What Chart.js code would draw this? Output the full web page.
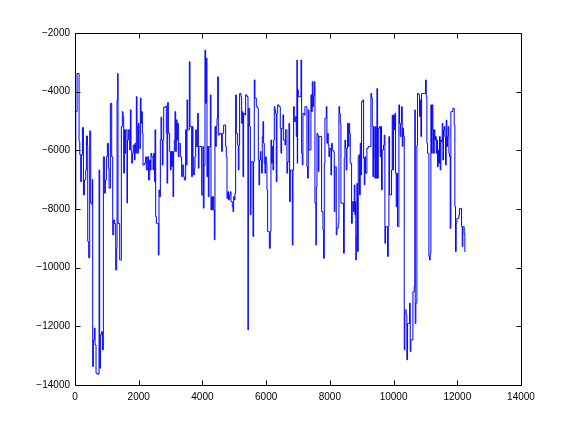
<!DOCTYPE html>
<html lang="en">
  <head>
    <meta charset="UTF-8" />
    <title>Step trace</title>
    <script src="https://cdn.jsdelivr.net/npm/chart.js"></script>
    <style>
      body {
        margin: 0;
        background: #fff;
      }
      canvas {
        display: block;
      }
    </style>
  </head>
  <body>
    <canvas id="traceChart" width="576" height="432"></canvas>

    <script>
      // sample positions (x) and levels (y)
      const xs = [
        0, 25, 65, 128, 150, 180, 200, 232, 264, 295, 337, 358, 390, 400, 430, 462, 493, 535, 545, 556,
        577, 608, 630, 660, 702, 755, 776, 797, 838, 860, 890, 922, 953, 985, 1017, 1048, 1070, 1110, 1152, 1184,
        1215, 1236, 1278, 1309, 1320, 1340, 1351, 1403, 1455, 1487, 1508, 1529, 1550, 1570, 1591, 1633, 1645, 1675, 1717, 1738,
        1759, 1780, 1801, 1830, 1863, 1884, 1905, 1926, 1947, 1968, 1989, 2010, 2052, 2073, 2093, 2114, 2135, 2177, 2219, 2240,
        2282, 2310, 2345, 2366, 2386, 2407, 2449, 2470, 2491, 2500, 2512, 2533, 2554, 2595, 2616, 2637, 2658, 2679, 2700, 2721,
        2742, 2763, 2784, 2846, 2867, 2888, 2909, 2930, 2951, 2972, 2993, 3014, 3035, 3056, 3077, 3097, 3118, 3139, 3160, 3181,
        3202, 3223, 3244, 3265, 3286, 3307, 3348, 3369, 3411, 3432, 3474, 3495, 3516, 3537, 3579, 3589, 3610, 3641, 3662, 3683,
        3704, 3725, 3746, 3767, 3788, 3809, 3850, 3871, 3892, 3913, 3955, 3976, 4018, 4028, 4050, 4080, 4101, 4122, 4143, 4164,
        4185, 4206, 4248, 4269, 4290, 4311, 4332, 4353, 4373, 4394, 4415, 4436, 4457, 4478, 4499, 4541, 4583, 4604, 4624, 4645,
        4666, 4708, 4729, 4750, 4771, 4792, 4820, 4855, 4876, 4897, 4938, 4960, 4980, 5001, 5022, 5043, 5064, 5084, 5105, 5126,
        5147, 5168, 5210, 5231, 5252, 5273, 5294, 5335, 5356, 5398, 5430, 5440, 5482, 5503, 5524, 5566, 5587, 5607, 5628, 5649,
        5691, 5733, 5754, 5775, 5796, 5817, 5838, 5858, 5879, 5900, 5921, 5942, 5963, 5984, 6005, 6026, 6047, 6068, 6100, 6130,
        6151, 6172, 6193, 6214, 6235, 6256, 6277, 6298, 6318, 6339, 6360, 6402, 6444, 6465, 6486, 6528, 6549, 6570, 6590, 6611,
        6632, 6653, 6674, 6695, 6716, 6737, 6758, 6800, 6821, 6842, 6862, 6883, 6925, 6946, 6967, 6978, 6988, 7009, 7051, 7093,
        7114, 7134, 7155, 7197, 7218, 7260, 7281, 7302, 7323, 7344, 7385, 7406, 7427, 7448, 7469, 7490, 7511, 7532, 7563, 7574,
        7595, 7615, 7636, 7657, 7720, 7741, 7783, 7804, 7825, 7846, 7887, 7908, 7929, 7950, 7971, 7992, 8034, 8055, 8076, 8117,
        8138, 8159, 8180, 8201, 8222, 8264, 8285, 8306, 8327, 8348, 8410, 8431, 8452, 8473, 8494, 8515, 8536, 8557, 8578, 8599,
        8620, 8640, 8661, 8682, 8703, 8724, 8745, 8766, 8787, 8800, 8815, 8830, 8849, 8870, 8891, 8912, 8933, 8954, 8975, 8996,
        9038, 9059, 9080, 9100, 9121, 9163, 9205, 9247, 9289, 9310, 9331, 9352, 9372, 9393, 9414, 9435, 9456, 9477, 9498, 9519,
        9561, 9582, 9603, 9623, 9644, 9686, 9707, 9728, 9749, 9791, 9812, 9833, 9854, 9875, 9916, 9937, 9958, 9979, 10000, 10021,
        10042, 10063, 10084, 10105, 10125, 10146, 10167, 10188, 10209, 10230, 10251, 10272, 10293, 10314, 10335, 10355, 10376, 10397, 10418, 10439,
        10481, 10502, 10523, 10544, 10586, 10607, 10648, 10669, 10680, 10700, 10711, 10732, 10753, 10795, 10816, 10837, 10858, 10879, 10920, 10962,
        11004, 11025, 11046, 11067, 11109, 11130, 11150, 11171, 11192, 11213, 11234, 11255, 11276, 11297, 11318, 11338, 11359, 11380, 11401, 11422,
        11443, 11464, 11485, 11506, 11527, 11548, 11569, 11590, 11610, 11631, 11652, 11673, 11694, 11715, 11736, 11757, 11778, 11799, 11840, 11862,
        11903, 11924, 11945, 11966, 11987, 12008, 12050, 12071, 12113, 12134, 12155, 12176, 12217, 12238, 12259
      ];

      const ys = [
        -8000, -4680, -3380, -5700, -6150, -7070, -6150, -5220, -7520, -7010, -6670, -5510, -5870, -9110, -9660, -5340, -7800, -7860, -6990, -13370,
        -12460, -12060, -12630, -13600, -13630, -6670, -13430, -12290, -12180, -12800, -6220, -7460, -7010, -6220, -5760, -6610, -7290, -4400, -6220, -8880,
        -8370, -8500, -10080, -9340, -4280, -3380, -8490, -9740, -5190, -4680, -4850, -6780, -5300, -6100, -5300, -7800, -5650, -5300, -5990, -4620,
        -5990, -6440, -6100, -5820, -6330, -5760, -6100, -4170, -5190, -6100, -5080, -5930, -4220, -5080, -4680, -5420, -6500, -6440, -6220, -6670,
        -6220, -7010, -6330, -6670, -6100, -6220, -6670, -6100, -6670, -7070, -5300, -8260, -8490, -8490, -9570, -7350, -7580, -5650, -4870, -5650,
        -6500, -5650, -4530, -4490, -5420, -7120, -4370, -5420, -5420, -6040, -6670, -6040, -6550, -6040, -7580, -6040, -5650, -4680, -6040, -4960,
        -5650, -5080, -6220, -5760, -5760, -6220, -6900, -6500, -6900, -7010, -5300, -6500, -4280, -5300, -5300, -2980, -5190, -5190, -6900, -5190,
        -6220, -6840, -6610, -6220, -5300, -5870, -4740, -6610, -5870, -5870, -5870, -7520, -5870, -7970, -6500, -2580, -4400, -2860, -6900, -5870,
        -7580, -5870, -4110, -8030, -7580, -8030, -7580, -8030, -9050, -5190, -5870, -5190, -4910, -3490, -5480, -5420, -5420, -6040, -5420, -5420,
        -5140, -5140, -5870, -6220, -7640, -7410, -7690, -7520, -7410, -7750, -7920, -8090, -7580, -7690, -7460, -4110, -5420, -5420, -5820, -6670,
        -5820, -4060, -4170, -5080, -4680, -6900, -4740, -4800, -4110, -4170, -12120, -4570, -5190, -8200, -6390, -6390, -8940, -6390, -3600, -4220,
        -4510, -4570, -6330, -7180, -6330, -6040, -6330, -6780, -5530, -5020, -5760, -6440, -6780, -6220, -6440, -7350, -8770, -8770, -9340, -8770,
        -5650, -6440, -5870, -6670, -5650, -4510, -4620, -4740, -7070, -4740, -4450, -4510, -5250, -6100, -5250, -4790, -5650, -5650, -5820, -5300,
        -5300, -6780, -6390, -6390, -5080, -7750, -6670, -6670, -9230, -6670, -4510, -5020, -4850, -5530, -2920, -6440, -3940, -4170, -4170, -2920,
        -6100, -6500, -4740, -4800, -4510, -4510, -6560, -6950, -4620, -5990, -5990, -4110, -4680, -3660, -4510, -4110, -3660, -7800, -9230, -7240,
        -5420, -5480, -6720, -5530, -5530, -8090, -8710, -9680, -6440, -4910, -4510, -5760, -5420, -5820, -6220, -5930, -6840, -5760, -6000, -6040,
        -8090, -6560, -6560, -8880, -8650, -8490, -4510, -4740, -5080, -7800, -7800, -9510, -6270, -5650, -5930, -6670, -5930, -5080, -5870, -5080,
        -5420, -6440, -6440, -8490, -7750, -7750, -8090, -7180, -8200, -7750, -9740, -8940, -7130, -9450, -6220, -6150, -7520, -5760, -6840, -4340,
        -4280, -6270, -7180, -6220, -6780, -5930, -5870, -5870, -4060, -4220, -5190, -6900, -5190, -6220, -6950, -5190, -6950, -3890, -6950, -5250,
        -5190, -6220, -5190, -7350, -5990, -5820, -5480, -9170, -8600, -8600, -9620, -8600, -5530, -7520, -7520, -6670, -4800, -6670, -4800, -5300,
        -4740, -6780, -7920, -6780, -8600, -8600, -4450, -5080, -5530, -5080, -4510, -5870, -5250, -5530, -12800, -11440, -11440, -11610, -13140, -11900,
        -11900, -11210, -12860, -12460, -12460, -10820, -10650, -4620, -11900, -11210, -11210, -5820, -4060, -4110, -4850, -4280, -5530, -4060, -4060, -4060,
        -3600, -4170, -5760, -6100, -9620, -9740, -9510, -4450, -6100, -4450, -5300, -6100, -5300, -5650, -5530, -6100, -5650, -6560, -5990, -6440,
        -5530, -6670, -5650, -5700, -5080, -6330, -5300, -5190, -5530, -6500, -4970, -5870, -5530, -5190, -6100, -6220, -8660, -4680, -4680, -4570,
        -5140, -7920, -9450, -8490, -8320, -8320, -8200, -7980, -7980, -8600, -9280, -8600, -8830, -9450, -9450
      ];

      const xTicks = [0, 2000, 4000, 6000, 8000, 10000, 12000, 14000];
      const yTicks = [-14000, -12000, -10000, -8000, -6000, -4000, -2000];

      const points = xs.map((x, i) => ({ x: x, y: ys[i] }));

      // label with a real minus sign, like the original
      function fmt(v) {
        return v < 0 ? "\u2212" + Math.abs(v) : String(v);
      }

      // box round the plot and inward tick marks on all four sides
      const boxPlugin = {
        id: "boxPlugin",
        afterDraw(chart) {
          const ctx = chart.ctx;
          const a = chart.chartArea;
          const sx = chart.scales.x;
          const sy = chart.scales.y;
          const L = Math.round(a.left) + 0.5;
          const R = Math.round(a.right) + 0.5;
          const T = Math.round(a.top) + 0.5;
          const B = Math.round(a.bottom) + 0.5;
          ctx.save();
          ctx.strokeStyle = "#000";
          ctx.lineWidth = 1;
          ctx.beginPath();
          ctx.rect(L, T, R - L, B - T);
          xTicks.forEach((v) => {
            const px = Math.round(sx.getPixelForValue(v)) + 0.5;
            ctx.moveTo(px, B);
            ctx.lineTo(px, B - 5);
            ctx.moveTo(px, T);
            ctx.lineTo(px, T + 5);
          });
          yTicks.forEach((v) => {
            const py = Math.round(sy.getPixelForValue(v)) + 0.5;
            ctx.moveTo(L, py);
            ctx.lineTo(L + 5, py);
            ctx.moveTo(R, py);
            ctx.lineTo(R - 5, py);
          });
          ctx.stroke();
          ctx.restore();
        },
      };

      const tickFont = { family: "'Liberation Sans', Arial, sans-serif", size: 10 };

      new Chart(document.getElementById("traceChart").getContext("2d"), {
        type: "line",
        data: {
          datasets: [
            {
              data: points,
              borderColor: "#0000ff",
              borderWidth: 1,
              pointRadius: 0,
              stepped: true,
              fill: false,
            },
          ],
        },
        options: {
          responsive: false,
          animation: false,
          layout: { padding: { top: 33, right: 55, left: 0, bottom: 0 } },
          plugins: { legend: { display: false }, tooltip: { enabled: false } },
          scales: {
            x: {
              type: "linear",
              min: 0,
              max: 14000,
              afterFit: (s) => {
                s.height = 47;
              },
              afterBuildTicks: (s) => {
                s.ticks = xTicks.map((v) => ({ value: v }));
              },
              grid: { display: false, drawTicks: false },
              border: { display: false },
              ticks: {
                color: "#000",
                font: tickFont,
                padding: 6,
                maxRotation: 0,
                callback: (v) => fmt(v),
              },
            },
            y: {
              type: "linear",
              min: -14000,
              max: -2000,
              afterFit: (s) => {
                s.width = 75;
              },
              afterBuildTicks: (s) => {
                s.ticks = yTicks.map((v) => ({ value: v }));
              },
              grid: { display: false, drawTicks: false },
              border: { display: false },
              ticks: {
                color: "#000",
                font: tickFont,
                padding: 5,
                callback: (v) => fmt(v),
              },
            },
          },
        },
        plugins: [boxPlugin],
      });
    </script>
  </body>
</html>
